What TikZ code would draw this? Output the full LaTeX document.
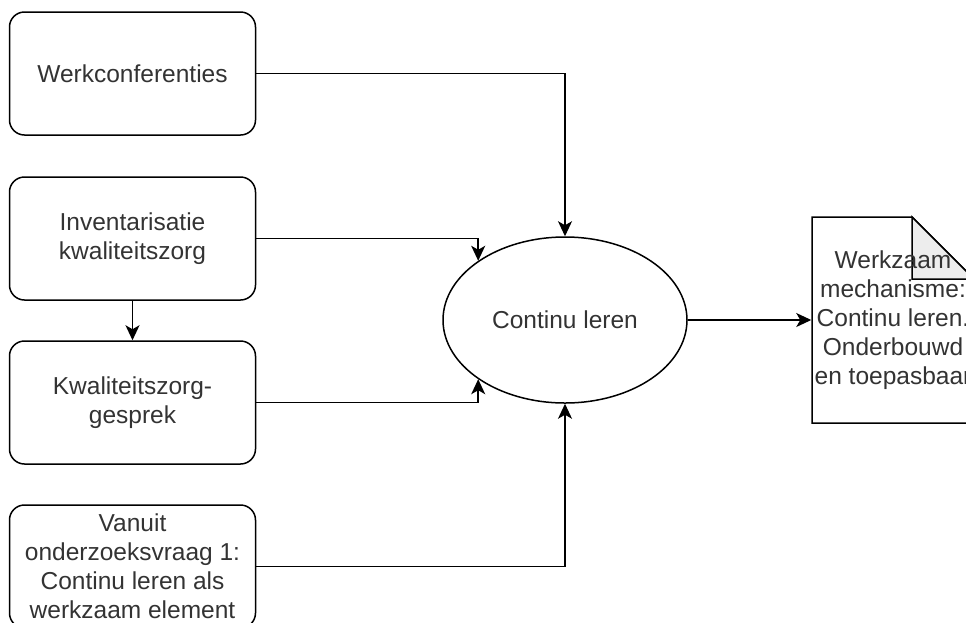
\documentclass[tikz,border=0pt]{standalone}
\usepackage{fontspec}
\setmainfont{Liberation Sans}
\usetikzlibrary{shapes.geometric,arrows.meta}

\begin{document}
\begin{tikzpicture}[
    x=1pt, y=-1pt,
    font=\fontsize{24.5}{29}\selectfont,
    text=black!80,
    line width=1.5pt,
    box/.style={draw, rounded corners=15pt, minimum width=246pt,
        minimum height=123pt, align=center, inner sep=2pt},
    arrow/.style={-{Stealth[length=15pt, width=14pt, inset=4pt]}}
]

    % Frame
    \useasboundingbox (0,0) rectangle (966,622);
    \clip (0,0) rectangle (966,622);

    % Input boxes
    \node[box] (werk)   at (132.5, 73.5)  {Werkconferenties};
    \node[box] (invent) at (132.5, 238.5) {Inventarisatie\\kwaliteitszorg};
    \node[box] (kwal)   at (132.5, 402.5) {Kwaliteitszorg-\\gesprek};
    \node[box] (vanuit) at (132.5, 566.5) {Vanuit\\onderzoeksvraag 1:\\Continu leren als\\werkzaam element};

    % Central ellipse
    \node[draw, ellipse, minimum width=244pt, minimum height=166pt,
        inner sep=0pt] (leren) at (565, 320) {Continu leren};

    % Document with folded corner
    \coordinate (doc_nw)   at (812, 217);
    \coordinate (fold_top) at (912, 217);
    \coordinate (fold_in)  at (912, 279);
    \coordinate (fold_rt)  at (974, 279);
    \coordinate (doc_se)   at (974, 423);
    \draw[fill=white] (doc_nw) -- (fold_top) -- (fold_rt) -- (doc_se)
        -- (doc_nw |- doc_se) -- cycle;
    \draw[fill=black!7] (fold_top) -- (fold_in) -- (fold_rt) -- cycle;
    \node[minimum width=162pt, minimum height=206pt, inner sep=0pt,
        align=center] (doc) at (893, 320)
        {Werkzaam\\mechanisme:\\Continu leren.\\Onderbouwd\\en toepasbaar};

    % Connectors
    \draw[arrow] (werk.east) -| (leren.north);
    \draw[arrow] (invent.east) -| (leren.north west);
    \draw[arrow] (kwal.east) -| (leren.south west);
    \draw[arrow] (vanuit.east) -| (leren.south);
    \draw[arrow] (invent.south) -- (kwal.north);
    \draw[arrow] (leren.east) -- (doc.west);

\end{tikzpicture}
\end{document}
